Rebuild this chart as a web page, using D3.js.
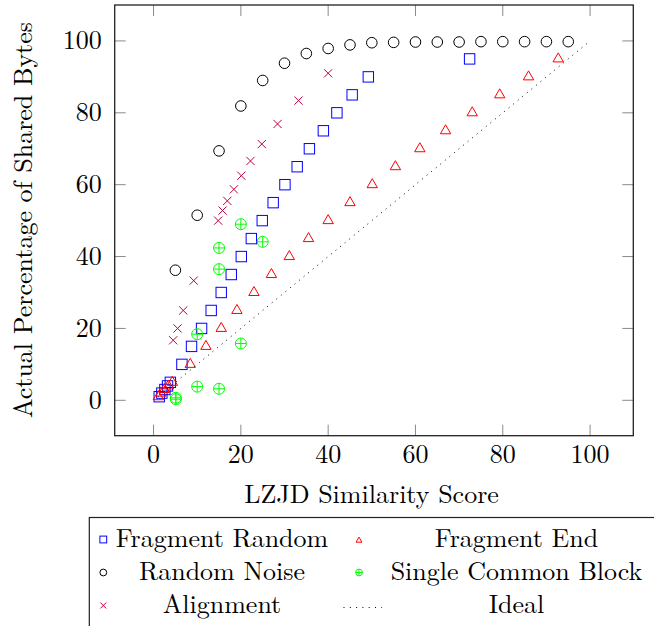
<!DOCTYPE html>
<html>
<head>
<meta charset="utf-8">
<script src="https://cdn.jsdelivr.net/npm/d3@7/dist/d3.min.js"></script>
<style>
  html, body { margin: 0; padding: 0; background: #fff; }
  svg { display: block; }
</style>
</head>
<body>
<svg id="chart" width="654" height="626"></svg>
<script>
// ---------- data ----------
const fragRandomX = [1.3, 1.9, 2.6, 3.2, 3.85, 6.5, 8.7, 11.0, 13.2, 15.5, 17.8, 20.1, 22.4, 24.9, 27.4, 30.1, 32.9, 35.7, 38.9, 42.0, 45.5, 49.2, 72.4];
const fragRandomY = [1, 2, 3, 4, 5, 10, 15, 20, 25, 30, 35, 40, 45, 50, 55, 60, 65, 70, 75, 80, 85, 90, 95];

const fragEndX = [1.1, 1.7, 2.5, 3.4, 4.3, 8.4, 12.0, 15.5, 19.1, 23.0, 27.0, 31.1, 35.5, 40.0, 45.0, 50.1, 55.4, 61.0, 66.9, 73.0, 79.3, 85.9, 92.7];
const fragEndY = [1, 2, 3, 4, 5, 10, 15, 20, 25, 30, 35, 40, 45, 50, 55, 60, 65, 70, 75, 80, 85, 90, 95];

const noiseX = [5, 10, 15, 20, 25, 30, 35, 40, 45, 50, 55, 60, 65, 70, 75, 80, 85, 90, 95];
const noiseY = [36.2, 51.5, 69.4, 81.9, 89.0, 93.8, 96.5, 97.9, 98.9, 99.5, 99.6, 99.7, 99.7, 99.7, 99.8, 99.8, 99.8, 99.8, 99.8];

const blockX = [5.1, 5.1, 10, 10, 15, 15, 15, 20, 20, 25];
const blockY = [0.3, 0.7, 3.8, 18.4, 3.2, 36.5, 42.4, 15.8, 49.0, 44.1];

const alignX = [4.5, 5.5, 6.8, 9.2, 14.8, 15.8, 16.9, 18.4, 20.1, 22.2, 24.8, 28.4, 33.2, 40.0];
const alignY = [16.7, 20.0, 25.0, 33.3, 50.0, 52.8, 55.5, 58.7, 62.5, 66.6, 71.3, 76.9, 83.4, 91.0];

const idealX = [1, 100];
const idealY = [1, 100];

const xTicks = [0, 20, 40, 60, 80, 100];
const yTicks = [0, 20, 40, 60, 80, 100];

const seriesNames = ["Fragment Random", "Fragment End", "Random Noise", "Single Common Block", "Alignment", "Ideal"];
const xLabel = "LZJD Similarity Score";
const yLabel = "Actual Percentage of Shared Bytes";

// ---------- layout ----------
const FONT = '"Latin Modern Roman", "Liberation Serif", serif';
const svg = d3.select("#chart");
const L = 114.7, R = 633.3, T = 5, B = 435.7;
const x = d3.scaleLinear().domain([-8.9, 109.9]).range([L, R]);
const y = d3.scaleLinear().domain([-9.85, 110]).range([B, T]);
const FS = 26;

const zip = (xs, ys) => xs.map((v, i) => [v, ys[i]]);

function txt(g) {
  return g.append("text").attr("font-family", FONT).attr("font-size", FS).attr("fill", "#000");
}

// marker drawers
function drawMark(g, type, cx, cy, r, color) {
  const s = g.append("g").attr("transform", `translate(${cx},${cy})`)
    .attr("fill", "none").attr("stroke", color).attr("stroke-width", 1);
  if (type === "square") {
    s.append("rect").attr("x", -r).attr("y", -r).attr("width", 2 * r).attr("height", 2 * r);
  } else if (type === "circle") {
    s.append("circle").attr("r", r);
  } else if (type === "triangle") {
    const h = r * 0.866;
    s.append("path").attr("d", `M0,${-r}L${h},${r / 2}L${-h},${r / 2}Z`);
  } else if (type === "oplus") {
    s.append("circle").attr("r", r);
    s.append("path").attr("d", `M${-r},0H${r}M0,${-r}V${r}`);
  } else if (type === "x") {
    const a = r * 0.7071;
    s.append("path").attr("d", `M${-a},${-a}L${a},${a}M${-a},${a}L${a},${-a}`);
  }
}

const series = [
  { name: seriesNames[0], type: "square", color: "#0000ff", data: zip(fragRandomX, fragRandomY) },
  { name: seriesNames[1], type: "triangle", color: "#ff0000", data: zip(fragEndX, fragEndY) },
  { name: seriesNames[2], type: "circle", color: "#000000", data: zip(noiseX, noiseY) },
  { name: seriesNames[3], type: "oplus", color: "#00ff00", data: zip(blockX, blockY) },
  { name: seriesNames[4], type: "x", color: "#bf0040", data: zip(alignX, alignY) },
  { name: seriesNames[5], type: "line", color: "#000000", data: zip(idealX, idealY) }
];
const markR = { square: 5.2, triangle: 6, circle: 5.3, oplus: 5.5, x: 5.8 };

// ticks (all four sides, inward)
const tk = svg.append("g").attr("stroke", "#8a8a8a").attr("stroke-width", 1);
const TL = 11;
xTicks.forEach(v => {
  const px = x(v);
  tk.append("line").attr("x1", px).attr("x2", px).attr("y1", B).attr("y2", B - TL);
  tk.append("line").attr("x1", px).attr("x2", px).attr("y1", T).attr("y2", T + TL);
});
yTicks.forEach(v => {
  const py = y(v);
  tk.append("line").attr("y1", py).attr("y2", py).attr("x1", L).attr("x2", L + TL);
  tk.append("line").attr("y1", py).attr("y2", py).attr("x1", R).attr("x2", R - TL);
});

// data
const plot = svg.append("g");
series.forEach(s => {
  if (s.type === "line") {
    plot.append("path")
      .attr("d", d3.line().x(d => x(d[0])).y(d => y(d[1]))(s.data))
      .attr("fill", "none").attr("stroke", s.color).attr("stroke-width", 1)
      .attr("stroke-dasharray", "1,4.9");
  } else {
    s.data.forEach(d => drawMark(plot, s.type, x(d[0]), y(d[1]), markR[s.type], s.color));
  }
});

// frame
svg.append("rect").attr("x", L).attr("y", T).attr("width", R - L).attr("height", B - T)
  .attr("fill", "none").attr("stroke", "#222").attr("stroke-width", 1.3);

// tick labels
xTicks.forEach(v => {
  txt(svg).attr("x", x(v)).attr("y", 463).attr("text-anchor", "middle").text(v);
});
yTicks.forEach(v => {
  txt(svg).attr("x", 101.7).attr("y", y(v) + 8.4).attr("text-anchor", "end").text(v);
});

// axis titles
txt(svg).attr("x", 371.5).attr("y", 502.5).attr("text-anchor", "middle").text(xLabel);
txt(svg).attr("transform", `translate(32,220) rotate(-90)`).attr("text-anchor", "middle").text(yLabel);

// legend
const lg = svg.append("g");
lg.append("rect").attr("x", 89.3).attr("y", 517.5).attr("width", 600).attr("height", 200)
  .attr("fill", "#fff").attr("stroke", "#222").attr("stroke-width", 1.2);
const rowsY = [539.5, 572.5, 605.5];
const colMarkX = [103.3, 359];
const colTextX = [222, 516.5];
series.forEach((s, i) => {
  const row = Math.floor(i / 2), col = i % 2;
  const cy = rowsY[row];
  if (s.type === "line") {
    lg.append("line").attr("x1", 343.5).attr("x2", 382).attr("y1", cy + 2).attr("y2", cy + 2)
      .attr("stroke", "#000").attr("stroke-width", 1).attr("stroke-dasharray", "1,5.3");
  } else {
    drawMark(lg, s.type, colMarkX[col], cy + (s.type === "triangle" ? 1 : 0), s.type === "x" ? 4.2 : 3.4, s.color);
  }
  txt(lg).attr("x", colTextX[col]).attr("y", cy + 7.5).attr("text-anchor", "middle").text(s.name);
});
</script>
</body>
</html>
